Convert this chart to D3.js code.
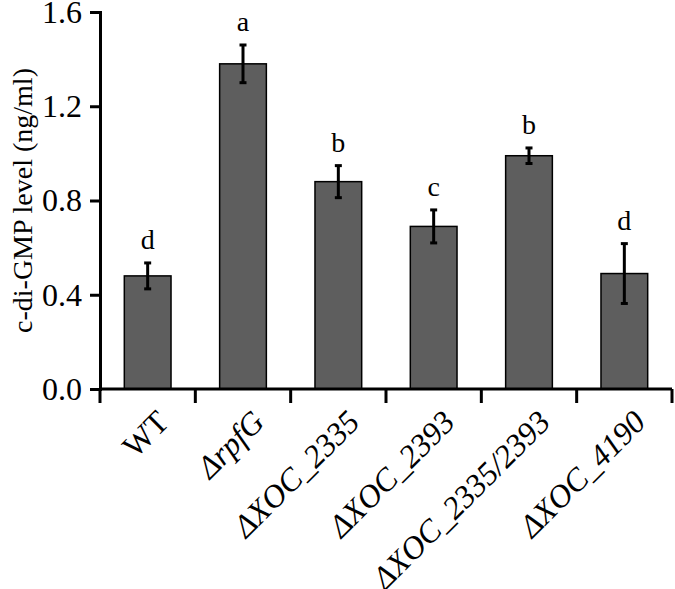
<!DOCTYPE html>
<html>
<head>
<meta charset="utf-8">
<script src="https://cdn.jsdelivr.net/npm/d3@7"></script>
<style>
  body { margin: 0; background: #fff; }
  svg { display: block; }
</style>
</head>
<body>
<div id="chart"></div>
<script>
// data
var strains = ["WT", "ΔrpfG", "ΔXOC_2335", "ΔXOC_2393", "ΔXOC_2335/2393", "ΔXOC_4190"];
var levels = [0.48, 1.38, 0.88, 0.69, 0.99, 0.49];
var errors = [0.055, 0.08, 0.068, 0.07, 0.033, 0.127];
var groups = ["d", "a", "b", "c", "b", "d"];
var yTicks = [0.0, 0.4, 0.8, 1.2, 1.6];

var width = 675, height = 589;
var plotLeft = 100, plotRight = 672, plotTop = 12, plotBottom = 389;
var serif = "'Liberation Serif', 'Times New Roman', Times, serif";

var svg = d3.select("#chart").append("svg")
    .attr("width", width)
    .attr("height", height)
    .attr("font-family", serif);

var x = d3.scaleBand()
    .domain(strains)
    .range([plotLeft, plotRight])
    .padding(0);

var y = d3.scaleLinear()
    .domain([0, 1.6])
    .range([plotBottom, plotTop]);

var barW = x.bandwidth() * 0.49;

// bars
svg.selectAll("rect.bar")
    .data(strains)
    .enter().append("rect")
    .attr("class", "bar")
    .attr("x", (d) => x(d) + x.bandwidth()/2 - barW/2)
    .attr("y", (d, i) => y(levels[i]))
    .attr("width", barW)
    .attr("height", (d, i) => y(0) - y(levels[i]))
    .attr("fill", "#5e5e5e")
    .attr("stroke", "#000")
    .attr("stroke-width", 1.5);

// error bars
var err = svg.selectAll("g.err")
    .data(strains)
    .enter().append("g")
    .attr("class", "err")
    .attr("stroke", "#000")
    .attr("stroke-width", 3);

err.append("line")
    .attr("x1", (d) => x(d) + x.bandwidth()/2)
    .attr("x2", (d) => x(d) + x.bandwidth()/2)
    .attr("y1", (d, i) => y(levels[i] + errors[i]))
    .attr("y2", (d, i) => y(levels[i] - errors[i]));

[1, -1].forEach(function(s) {
  err.append("line")
    .attr("x1", (d) => x(d) + x.bandwidth()/2 - 3.5)
    .attr("x2", (d) => x(d) + x.bandwidth()/2 + 3.5)
    .attr("y1", (d, i) => y(levels[i] + s*errors[i]))
    .attr("y2", (d, i) => y(levels[i] + s*errors[i]));
});

// significance letters
svg.selectAll("text.grp")
    .data(strains)
    .enter().append("text")
    .attr("class", "grp")
    .attr("x", (d) => x(d) + x.bandwidth()/2)
    .attr("y", (d, i) => y(levels[i] + errors[i]) - 14)
    .attr("text-anchor", "middle")
    .attr("font-size", 28)
    .text((d, i) => groups[i]);

// y axis
var yAxis = svg.append("g")
    .attr("transform", "translate(" + plotLeft + ",0)")
    .call(d3.axisLeft(y).tickValues(yTicks).tickFormat(d3.format(".1f")).tickSizeOuter(0).tickSize(10).tickPadding(8))
    .attr("font-family", serif)
    .attr("font-size", 32);

yAxis.select(".domain").attr("stroke-width", 3);
yAxis.selectAll(".tick line").attr("stroke-width", 3);
yAxis.selectAll(".tick text").attr("fill", "#000");

// x axis: ticks at band edges
var xAxis = svg.append("g")
    .attr("transform", "translate(0," + plotBottom + ")");

xAxis.append("line")
    .attr("x1", plotLeft).attr("x2", plotRight)
    .attr("stroke", "#000").attr("stroke-width", 3);

var edges = strains.map((d) => x(d)).concat([plotRight]);
xAxis.selectAll("line.tk")
    .data(edges)
    .enter().append("line")
    .attr("class", "tk")
    .attr("x1", (d) => d).attr("x2", (d) => d)
    .attr("y1", 0).attr("y2", 14)
    .attr("stroke", "#000").attr("stroke-width", 3);

xAxis.selectAll("text.lbl")
    .data(strains)
    .enter().append("text")
    .attr("class", "lbl")
    .attr("transform", (d) => "translate(" + (x(d) + x.bandwidth()/2 + 23) + ",35) rotate(-45)")
    .attr("text-anchor", "end")
    .attr("font-size", 32)
    .attr("font-style", (d) => d === "WT" ? "normal" : "italic")
    .text((d) => d);

// y title
svg.append("text")
    .attr("transform", "translate(32," + (plotBottom + plotTop)/2 + ") rotate(-90)")
    .attr("text-anchor", "middle")
    .attr("font-size", 28)
    .text("c-di-GMP level (ng/ml)");
</script>
</body>
</html>
